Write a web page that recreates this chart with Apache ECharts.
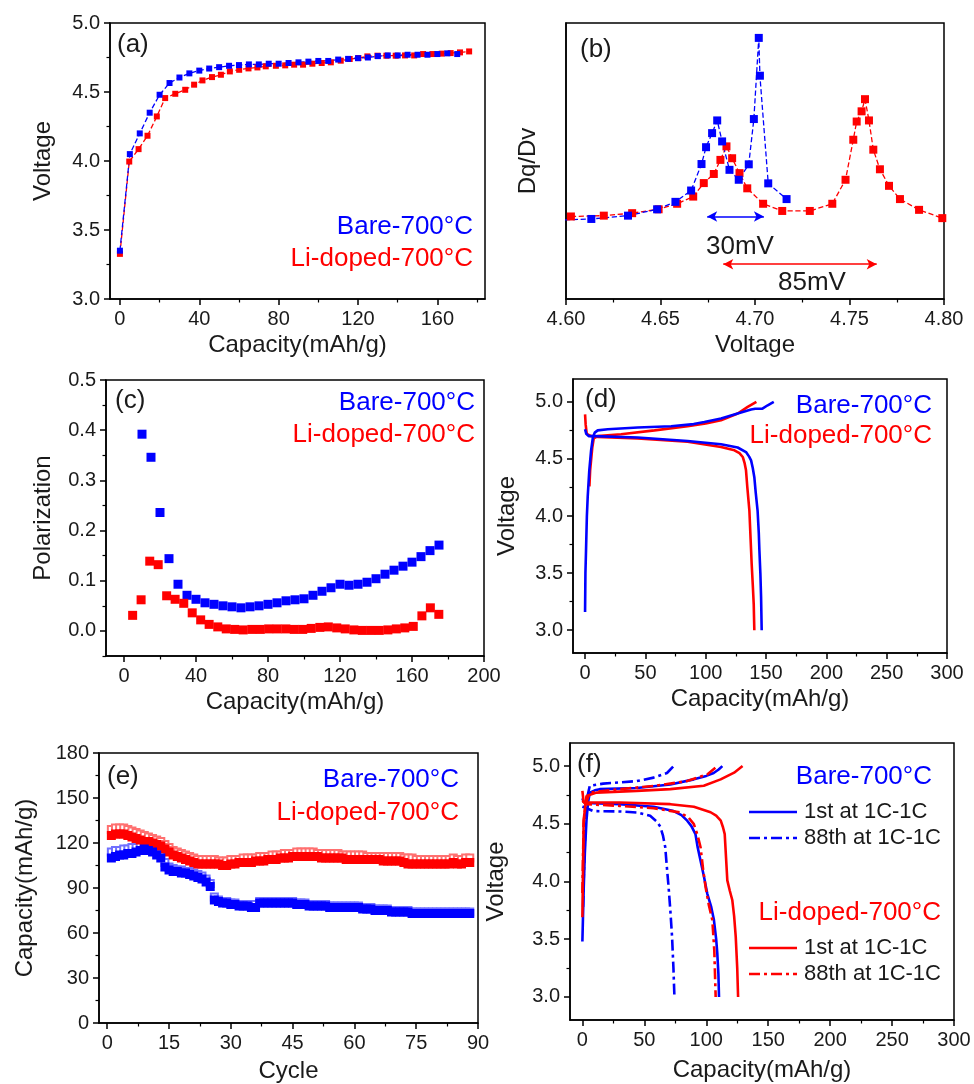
<!DOCTYPE html>
<html><head><meta charset="utf-8">
<script src="https://cdn.jsdelivr.net/npm/echarts@6/dist/echarts.min.js"></script>
<style>html,body{margin:0;padding:0;background:#fff}#c{width:974px;height:1084px}</style>
</head><body><div id="c"></div>
<script>
// ---------- (a) voltage vs capacity ----------
const aBareCap = [0,5,10,15,20,25,30,35,40,45,50,55,60,65,70,75,80,85,90,95,100,105,110,115,120,125,130,135,140,145,150,155,160,165,170];
const aBareV = [3.35,4.05,4.20,4.35,4.48,4.565,4.605,4.635,4.655,4.67,4.68,4.69,4.695,4.70,4.70,4.705,4.705,4.71,4.715,4.72,4.725,4.725,4.735,4.74,4.745,4.75,4.76,4.765,4.765,4.77,4.77,4.77,4.775,4.78,4.775];
const aLiCap = [0,4.7,9.4,13.9,18.6,22.8,27.9,32.9,37.4,41.6,46.4,50.9,55.4,60.1,64.8,69.3,73.5,78.6,83.3,87.8,92.3,97,101.7,106.3,111.3,115.8,120.2,124.7,129.8,134.3,139,143.7,148.3,152.8,157.5,162.2,166.7,171.4,176];
const aLiV = [3.327,3.996,4.086,4.183,4.323,4.456,4.487,4.516,4.553,4.584,4.608,4.625,4.649,4.661,4.671,4.678,4.686,4.69,4.693,4.698,4.698,4.705,4.71,4.715,4.727,4.739,4.746,4.758,4.763,4.763,4.763,4.765,4.765,4.775,4.775,4.778,4.782,4.787,4.794];
const aXTicks = [0,40,80,120,160], aXMinor = [20,60,100,140,180];
const aYTicks = [3.0,3.5,4.0,4.5,5.0], aYMinor = [3.25,3.75,4.25,4.75];

// ---------- (b) dQ/dV ----------
const bBareV = [4.5995,4.6134,4.6328,4.6482,4.6579,4.6662,4.6717,4.6741,4.6773,4.6800,4.6826,4.6865,4.6914,4.6967,4.6994,4.7020,4.7026,4.7070,4.7167];
const bBareQ = [28.7,29.0,30.2,32.5,35.2,39.3,48.9,55.0,60.1,64.7,57.1,46.8,43.2,48.8,65.2,94.6,80.9,41.9,36.2];
const bLiV = [4.6026,4.620,4.635,4.649,4.6588,4.6673,4.6729,4.6782,4.6817,4.6849,4.6879,4.6918,4.6959,4.7043,4.7144,4.7290,4.7409,4.7479,4.7520,4.7538,4.7564,4.7582,4.7603,4.7626,4.7661,4.7709,4.7767,4.7868,4.7991];
const bLiQ = [29.9,30.2,31.1,32.5,34.5,37.1,42.0,45.3,50.4,55.3,51.0,45.6,40.1,34.5,31.9,31.9,34.5,43.2,57.7,64.3,68.0,72.4,64.7,54.1,47.0,41.0,36.2,32.3,29.3];
const bArrowBlue = [4.6747, 4.7047, 29.9];
const bArrowRed = [4.6832, 4.7644, 12.6];
const bXTicks = [4.60,4.65,4.70,4.75,4.80], bXMinor = [4.625,4.675,4.725,4.775];

// ---------- (c) polarization ----------
const cBareCap = [10,15,20,25,30,35,40,45,50,55,60,65,70,75,80,85,90,95,100,105,110,115,120,125,130,135,140,145,150,155,160,165,170,175];
const cBareP = [0.392,0.346,0.236,0.144,0.093,0.071,0.063,0.056,0.053,0.050,0.048,0.046,0.048,0.050,0.053,0.056,0.060,0.062,0.064,0.071,0.079,0.086,0.093,0.091,0.093,0.097,0.104,0.113,0.121,0.129,0.137,0.148,0.160,0.171];
const cLiCap = [4.8,9.5,14.3,19.0,23.7,28.4,33.2,37.9,42.6,47.3,52.1,56.8,61.5,66.2,71.0,75.7,80.4,85.1,89.9,94.6,99.3,104.0,108.8,113.5,118.2,122.9,127.7,132.4,137.1,141.8,146.6,151.3,156.0,160.7,165.5,170.2,174.9];
const cLiP = [0.031,0.062,0.139,0.132,0.070,0.063,0.055,0.036,0.022,0.013,0.008,0.004,0.003,0.002,0.003,0.003,0.004,0.004,0.004,0.003,0.003,0.005,0.007,0.008,0.006,0.004,0.002,0.001,0.001,0.001,0.002,0.004,0.006,0.009,0.030,0.046,0.033];
const cXTicks = [0,40,80,120,160,200], cXMinor = [20,60,100,140,180];
const cYTicks = [0.0,0.1,0.2,0.3,0.4,0.5], cYMinor = [-0.05,0.05,0.15,0.25,0.35,0.45];

// ---------- (d) first charge/discharge ----------
const dBareChg = [[0,3.16],[0.3,3.5],[0.8,3.7],[1.5,4.0],[2.2,4.17],[3.5,4.4],[5,4.575],[6.5,4.69],[8,4.73],[10.5,4.75],[18.8,4.76],[43.6,4.775],[71.3,4.786],[90,4.805],[98.9,4.824],[112.7,4.854],[126.5,4.898],[137.6,4.933],[141,4.94],[147,4.94],[151.4,4.97],[156.4,5.0]];
const dBareDis = [[0,4.76],[1,4.72],[3,4.70],[7.7,4.70],[43.6,4.687],[85,4.657],[112.7,4.628],[126.5,4.60],[133.4,4.56],[136,4.52],[137.6,4.487],[139,4.42],[140.3,4.34],[141.5,4.2],[143,4.048],[144,3.85],[144.5,3.70],[145.3,3.5],[145.9,3.287],[146.4,3.0]];
const dLiChg = [[3.6,4.26],[4.2,4.4],[5,4.49],[6,4.6],[7.2,4.68],[10.5,4.70],[29.8,4.716],[57.5,4.75],[85,4.786],[100,4.81],[112.7,4.839],[126.5,4.898],[134.8,4.956],[142,5.0]];
const dLiDis = [[0,4.89],[0.5,4.8],[1.4,4.72],[5,4.70],[10.5,4.693],[43.6,4.68],[85,4.65],[112.7,4.605],[123.8,4.575],[128,4.55],[130.7,4.517],[132.3,4.46],[133.4,4.40],[134.5,4.25],[136.2,4.048],[137.2,3.8],[138.1,3.58],[139,3.4],[139.8,3.228],[140.3,3.0]];
const dfXTicks = [0,50,100,150,200,250,300], dfXMinor = [25,75,125,175,225,275];
const dfYTicks = [3.0,3.5,4.0,4.5,5.0], dfYMinor = [3.25,3.75,4.25,4.75];

// ---------- (e) cycling ----------
const eCycle = [1,2,3,4,5,6,7,8,9,10,11,12,13,14,15,16,17,18,19,20,21,22,23,24,25,26,27,28,29,30,31,32,33,34,35,36,37,38,39,40,41,42,43,44,45,46,47,48,49,50,51,52,53,54,55,56,57,58,59,60,61,62,63,64,65,66,67,68,69,70,71,72,73,74,75,76,77,78,79,80,81,82,83,84,85,86,87,88];
const eBareDis = [110,111,112,112,113,113,114,115,116,115, 114,112,110,104,102,101,101,100,100,99, 98,97,96,94,91,82,81,80,80,79, 79,78,78,78,77,77,80,80,80,80, 80,80,80,80,80,79,79,79,78,78, 78,78,78,77,77,77,77,77,77,77, 77,76,76,76,75,75,75,75,74,74, 74,74,74,73,73,73,73,73,73,73, 73,73,73,73,73,73,73,73];
const eBareChg = [114,115,115,116,116,117,117,118,119,119, 118,116,113,107,104,103,102,102,101,101, 100,99,98,96,93,84,82,81,81,80, 80,79,79,79,78,79,81,81,81,81, 81,81,81,81,81,80,80,80,79,79, 79,79,79,78,78,78,78,78,78,78, 78,77,77,77,76,76,76,76,75,75, 75,75,75,74,74,74,74,74,74,74, 74,74,74,74,74,74,74,74];
const eLiDis = [125,126,126,126,125,124,123,122,121,121, 120,119,118,116,114,112,111,110,109,108, 107,106,106,106,106,106,106,105,105,106, 106,107,107,107,107,108,108,108,109,109, 109,110,110,110,111,111,111,111,111,111, 111,110,110,110,110,110,110,109,109,109, 109,109,109,109,109,109,108,108,108,108, 108,107,106,106,106,106,106,106,106,106, 106,106,106,107,106,106,107,107];
const eLiChg = [129,130,130,130,129,128,127,126,125,124, 123,122,121,119,117,115,114,113,112,111, 110,109,109,109,109,109,108,108,108,109, 109,109,110,110,110,110,111,111,111,112, 112,112,113,113,113,114,114,114,114,114, 113,113,113,113,113,113,112,112,112,112, 112,112,111,111,111,111,111,111,111,111, 111,110,110,110,109,109,109,109,109,109, 109,109,109,110,109,109,110,110];
const eXTicks = [0,15,30,45,60,75,90], eXMinor = [7.5,22.5,37.5,52.5,67.5,82.5];
const eYTicks = [0,30,60,90,120,150,180], eYMinor = [15,45,75,105,135,165];

// ---------- (f) 1st vs 88th ----------
const fBare1Chg = [[0,3.48],[0.5,3.7],[1.1,3.95],[2,4.25],[3.3,4.53],[4.5,4.68],[6,4.77],[10,4.79],[14,4.80],[44,4.81],[71,4.84],[90,4.885],[100,4.915],[106,4.94],[110,4.97],[113,5.0]];
const fBare1Dis = [[0,4.72],[1,4.69],[3.3,4.68],[30,4.67],[57.5,4.647],[73.7,4.61],[80,4.575],[84.6,4.527],[88,4.48],[91.3,4.41],[93,4.3],[95.4,4.18],[98,4.05],[100.8,3.895],[104,3.78],[106.2,3.666],[108,3.5],[108.9,3.38],[109.8,3.2],[110.3,3.0]];
const fBare88Chg = [[0.5,3.78],[1.5,4.2],[3.3,4.70],[6,4.83],[16.8,4.848],[44,4.87],[57.5,4.90],[68.3,4.94],[73.7,5.0]];
const fBare88Dis = [[0,4.65],[8.7,4.61],[30,4.607],[43.9,4.598],[54.7,4.57],[60,4.52],[62.9,4.475],[65,4.4],[66.9,4.297],[68,4.15],[69.6,3.95],[71,3.75],[72.4,3.52],[73.5,3.25],[74.3,3.0]];
const fLi1Chg = [[0,3.69],[0.5,4.1],[1,4.53],[3.3,4.74],[11.4,4.77],[43.9,4.785],[71,4.80],[98,4.83],[111.6,4.885],[122.5,4.943],[129.3,5.0]];
const fLi1Dis = [[0,4.785],[1,4.685],[30,4.685],[71,4.67],[90,4.647],[103.5,4.60],[108,4.57],[111.7,4.527],[113.5,4.47],[114.9,4.41],[116,4.2],[117,4.01],[119,3.92],[121,3.84],[122.5,3.7],[123.8,3.52],[125,3.25],[125.7,3.0]];
const fLi88Chg = [[0,3.9],[1,4.5],[2.5,4.67],[6,4.77],[30,4.80],[57.5,4.828],[84.6,4.87],[100.8,4.928],[109,5.0]];
const fLi88Dis = [[0,4.70],[3,4.67],[30,4.655],[57.5,4.635],[79,4.598],[86,4.55],[90,4.497],[93,4.4],[95.4,4.297],[97.5,4.1],[99.5,3.95],[102,3.8],[104.9,3.666],[106.5,3.4],[107.6,3.0]];

// ---------------------------------------------------------
const FONT = '"Liberation Sans", Arial, sans-serif';
const BLUE = '#0000ff', RED = '#ff0000', TXT = '#1a1a1a';
const zip = (a, b) => a.map((v, i) => [v, b[i]]);

function axes(pos, gi, min, max, major, minor, name, nameGap, digits, showTicks) {
  const st = showTicks !== false;
  const main = {
    type: 'value', gridIndex: gi, min: min, max: max, scale: true, position: pos,
    name: name, nameLocation: 'middle', nameGap: nameGap,
    nameTextStyle: { fontSize: 24, color: TXT, fontFamily: FONT },
    axisLine: { show: true, onZero: false, lineStyle: { color: '#000', width: 1.5 } },
    axisTick: { show: st, inside: false, length: 6, customValues: major, lineStyle: { color: '#000', width: 1.5 } },
    axisLabel: { show: st, customValues: major, fontSize: 20, color: TXT, fontFamily: FONT, margin: 10,
      formatter: v => digits == null ? String(v) : Number(v).toFixed(digits) },
    splitLine: { show: false }
  };
  const mn = {
    type: 'value', gridIndex: gi, min: min, max: max, scale: true, position: pos, offset: 0,
    axisLine: { show: false, onZero: false },
    axisTick: { show: st, inside: false, length: 3.5, customValues: minor, lineStyle: { color: '#000', width: 1.2 } },
    axisLabel: { show: false }, splitLine: { show: false }
  };
  return [main, mn];
}

const grids = [
  { left: 110, top: 23, width: 375, height: 276 },
  { left: 566, top: 23, width: 378, height: 276 },
  { left: 106, top: 380, width: 378, height: 276 },
  { left: 573, top: 379, width: 374, height: 274 },
  { left: 99, top: 753, width: 379, height: 270 },
  { left: 570, top: 743, width: 384, height: 277 }
].map(g => Object.assign(g, { show: true, borderColor: '#000', borderWidth: 1.5, backgroundColor: 'transparent' }));

const xAxis = [].concat(
  axes('bottom', 0, -5, 184, aXTicks, aXMinor, 'Capacity(mAh/g)', 34, null),
  axes('bottom', 1, 4.6, 4.8, bXTicks, bXMinor, 'Voltage', 34, 2),
  axes('bottom', 2, -10, 200, cXTicks, cXMinor, 'Capacity(mAh/g)', 34, null),
  axes('bottom', 3, -10, 300, dfXTicks, dfXMinor, 'Capacity(mAh/g)', 34, null),
  axes('bottom', 4, -2, 90, eXTicks, eXMinor, 'Cycle', 36, null),
  axes('bottom', 5, -10, 300, dfXTicks, dfXMinor, 'Capacity(mAh/g)', 38, null)
);
const yAxis = [].concat(
  axes('left', 0, 3.0, 5.0, aYTicks, aYMinor, 'Voltage', 55, 1),
  axes('left', 1, 0, 100, [], [], 'Dq/Dv', 26, null, false),
  axes('left', 2, -0.05, 0.5, cYTicks, cYMinor, 'Polarization', 51, 1),
  axes('left', 3, 2.8, 5.2, dfYTicks, dfYMinor, 'Voltage', 54, 1),
  axes('left', 4, 0, 180, eYTicks, eYMinor, 'Capacity(mAh/g)', 62, null),
  axes('left', 5, 2.8, 5.2, dfYTicks, dfYMinor, 'Voltage', 62, 1)
);

function dotLine(gi, data, color, size) {
  return { type: 'line', xAxisIndex: 2 * gi, yAxisIndex: 2 * gi, data: data,
    symbol: 'rect', symbolSize: size, showSymbol: true,
    itemStyle: { color: color }, lineStyle: { color: color, width: 1.3, type: 'dashed' } };
}
function scat(gi, data, color, size, sym, z) {
  return { type: 'scatter', xAxisIndex: 2 * gi, yAxisIndex: 2 * gi, data: data, symbol: sym || 'rect',
    symbolSize: size, z: z || 2, itemStyle: { color: color, borderColor: color, borderWidth: sym ? 1 : 0, opacity: 1 } };
}
function curve(gi, data, color, dash) {
  return { type: 'line', xAxisIndex: 2 * gi, yAxisIndex: 2 * gi, data: data, showSymbol: false, symbol: 'none',
    lineStyle: { color: color, width: 2.6, type: dash ? [11, 4, 3, 4] : 'solid' } };
}

const series = [
  dotLine(0, zip(aLiCap, aLiV), RED, 6),
  dotLine(0, zip(aBareCap, aBareV), BLUE, 6),
  dotLine(1, zip(bLiV, bLiQ), RED, 8),
  Object.assign(dotLine(1, zip(bBareV, bBareQ), BLUE, 8), {
    markLine: { silent: true, animation: false, symbol: ['arrow', 'arrow'], symbolSize: [8, 10], label: { show: false },
      data: [
        [{ coord: [bArrowBlue[0], bArrowBlue[2]], lineStyle: { color: BLUE, width: 1.5, type: 'solid' } }, { coord: [bArrowBlue[1], bArrowBlue[2]] }],
        [{ coord: [bArrowRed[0], bArrowRed[2]], lineStyle: { color: RED, width: 1.5, type: 'solid' } }, { coord: [bArrowRed[1], bArrowRed[2]] }]
      ] } }),
  scat(2, zip(cBareCap, cBareP), BLUE, 9),
  scat(2, zip(cLiCap, cLiP), RED, 9),
  curve(3, dLiChg, RED), curve(3, dLiDis, RED),
  curve(3, dBareChg, BLUE), curve(3, dBareDis, BLUE),
  scat(4, zip(eCycle, eLiChg), '#ff7070', 7, 'emptyRect', 1),
  scat(4, zip(eCycle, eBareChg), '#7070ff', 7, 'emptyRect', 1),
  scat(4, zip(eCycle, eLiDis), RED, 9, null, 3),
  scat(4, zip(eCycle, eBareDis), BLUE, 9, null, 3),
  curve(5, fBare1Chg, BLUE), curve(5, fBare1Dis, BLUE),
  curve(5, fBare88Chg, BLUE, true), curve(5, fBare88Dis, BLUE, true),
  curve(5, fLi1Chg, RED), curve(5, fLi1Dis, RED),
  curve(5, fLi88Chg, RED, true), curve(5, fLi88Dis, RED, true)
];

function txt(x, y, s, color, size, align) {
  return { type: 'text', z: 100, style: { x: x, y: y, text: s, fill: color, font: size + 'px ' + FONT,
    align: align || 'left', verticalAlign: 'middle', textAlign: align || 'left', textVerticalAlign: 'middle' } };
}
function seg(x1, x2, y, color, dash) {
  return { type: 'line', z: 100, shape: { x1: x1, y1: y, x2: x2, y2: y },
    style: { stroke: color, lineWidth: 2.6, lineDash: dash ? [11, 4, 3, 4] : null } };
}

const graphic = [
  txt(117, 45, '(a)', TXT, 26), txt(580, 50, '(b)', TXT, 26), txt(115, 401, '(c)', TXT, 26),
  txt(585, 400, '(d)', TXT, 26), txt(107, 777, '(e)', TXT, 26), txt(577, 765, '(f)', TXT, 26),
  txt(473, 227, 'Bare-700°C', BLUE, 26, 'right'), txt(473, 259, 'Li-doped-700°C', RED, 26, 'right'),
  txt(740, 247, '30mV', TXT, 26, 'center'), txt(812, 283, '85mV', TXT, 26, 'center'),
  txt(475, 403, 'Bare-700°C', BLUE, 26, 'right'), txt(475, 435, 'Li-doped-700°C', RED, 26, 'right'),
  txt(932, 406, 'Bare-700°C', BLUE, 26, 'right'), txt(932, 436, 'Li-doped-700°C', RED, 26, 'right'),
  txt(459, 780, 'Bare-700°C', BLUE, 26, 'right'), txt(459, 813, 'Li-doped-700°C', RED, 26, 'right'),
  txt(932, 777, 'Bare-700°C', BLUE, 26, 'right'),
  seg(749, 797, 812, BLUE, false), txt(804, 812, '1st at 1C-1C', TXT, 22),
  seg(749, 797, 838, BLUE, true), txt(804, 838, '88th at 1C-1C', TXT, 22),
  txt(941, 913, 'Li-doped-700°C', RED, 26, 'right'),
  seg(749, 797, 948, RED, false), txt(804, 948, '1st at 1C-1C', TXT, 22),
  seg(749, 797, 974, RED, true), txt(804, 974, '88th at 1C-1C', TXT, 22)
];

const chart = echarts.init(document.getElementById('c'), null, { renderer: 'canvas' });
chart.setOption({
  backgroundColor: '#fff', animation: false,
  textStyle: { fontFamily: FONT },
  grid: grids, xAxis: xAxis, yAxis: yAxis, series: series, graphic: graphic
});
</script></body></html>
